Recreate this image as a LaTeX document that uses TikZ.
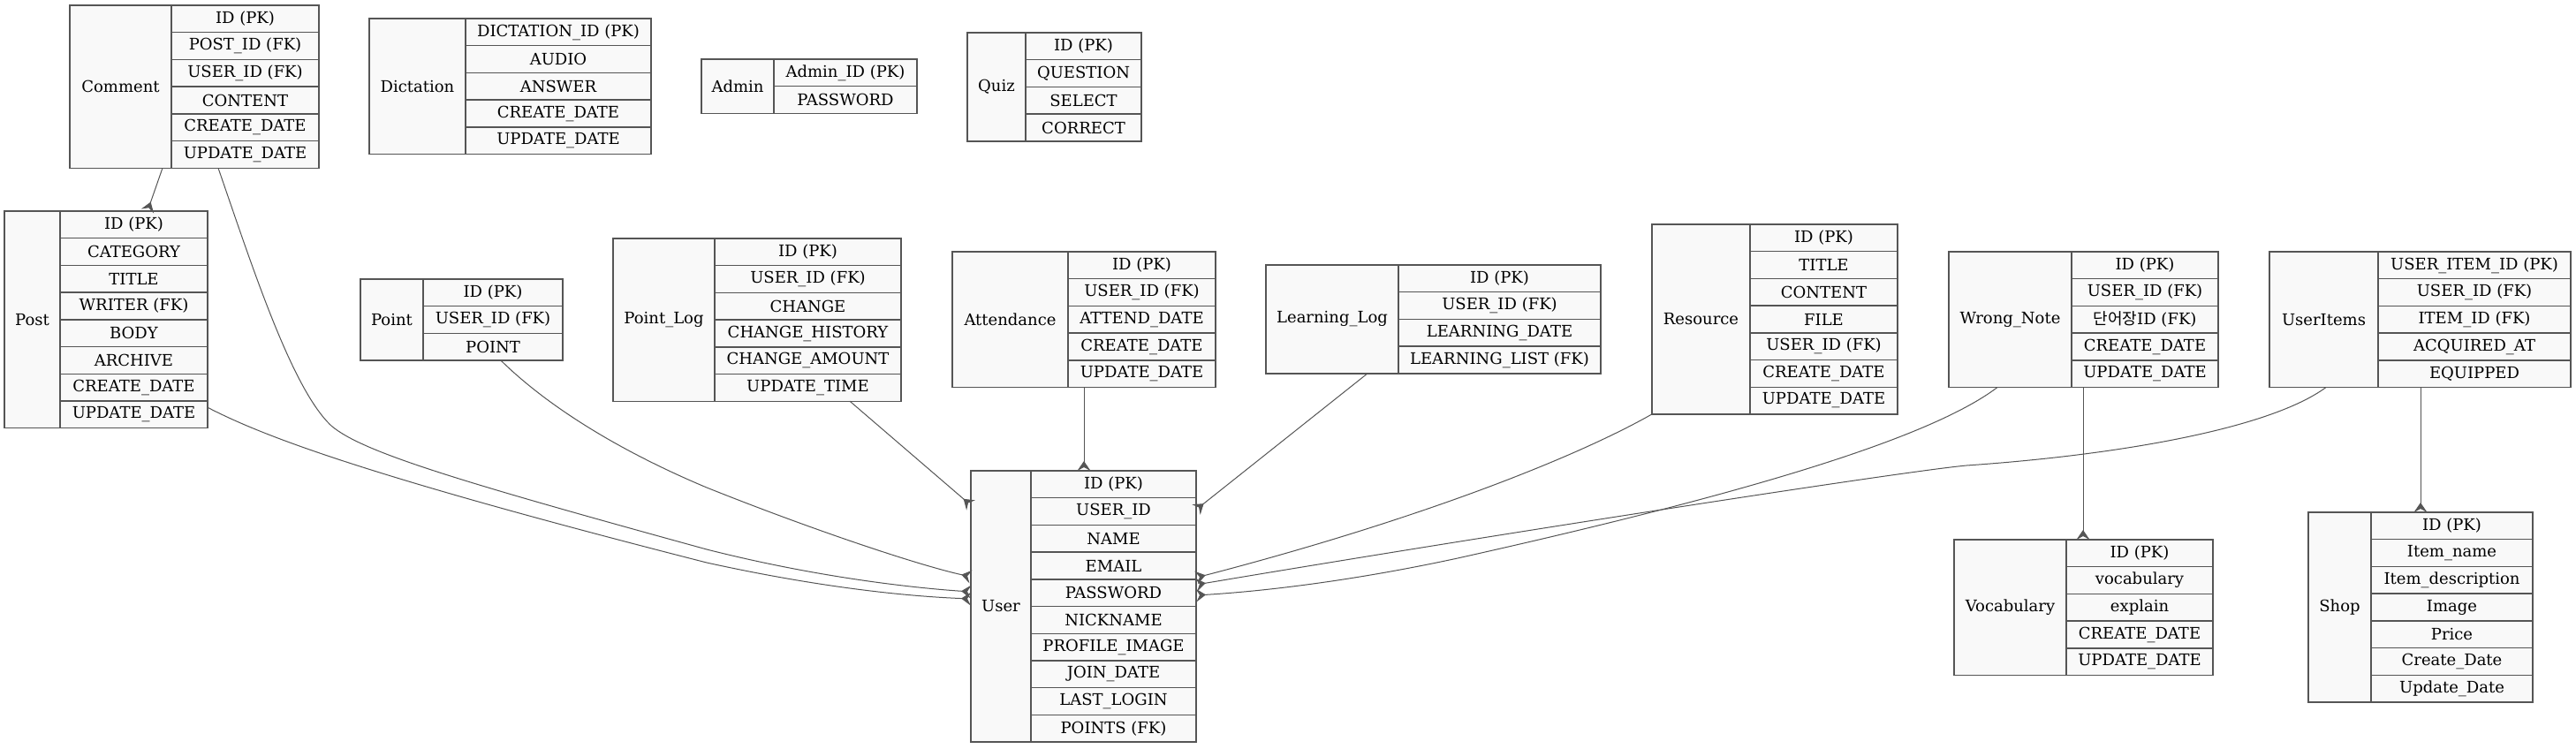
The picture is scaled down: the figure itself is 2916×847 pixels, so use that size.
\documentclass[tikz,border=0pt]{standalone}
\usepackage{fontspec}
\setmainfont{DejaVu Serif}
\newfontfamily\krfont{Noto Sans CJK KR}
\usetikzlibrary{arrows.meta}
\definecolor{erline}{HTML}{555555}
\definecolor{erfill}{HTML}{F9F9F9}
\newcommand{\erfont}{\fontsize{18}{20}\selectfont}
\newcommand{\rowh}{30.7}
\tikzset{
  erlbl/.style={draw=erline, fill=erfill, line width=1.4pt, inner sep=0pt, outer sep=0pt, font=\erfont},
  erfld/.style={erlbl},
  rel/.style={draw=erline, line width=1pt, -{Stealth[reversed, length=11pt, width=15pt, inset=4pt]}},
}
% name, x left, x divider, x right, y top, rows, label, fields
\newcommand{\erbox}[8]{%
  \node[erlbl, minimum width={(#3-#2)*1pt}, minimum height={#6*\rowh*1pt}] (#1) at ({(#2+#3)/2},{#5+#6*\rowh/2}) {#7};
  \foreach \fld [count=\i] in {#8}
    \node[erfld, minimum width={(#4-#3)*1pt}, minimum height={\rowh*1pt}] (#1-\i) at ({(#3+#4)/2},{#5+(\i-0.5)*\rowh}) {\fld};
}

\begin{document}
\begin{tikzpicture}[x=1pt, y=-1pt]
\useasboundingbox (0,0) rectangle (2916,847);
% top row
\erbox{comment}{79}{194}{361}{6}{6}{Comment}{ID (PK), POST\_ID (FK), USER\_ID (FK), CONTENT, CREATE\_DATE, UPDATE\_DATE}
\erbox{dict}{418}{527}{737}{21}{5}{Dictation}{DICTATION\_ID (PK), AUDIO, ANSWER, CREATE\_DATE, UPDATE\_DATE}
\erbox{admin}{794}{876}{1038}{67}{2}{Admin}{Admin\_ID (PK), PASSWORD}
\erbox{quiz}{1095}{1161}{1292}{37}{4}{Quiz}{ID (PK), QUESTION, SELECT, CORRECT}
% middle row
\erbox{post}{5}{68}{235}{239}{8}{Post}{ID (PK), CATEGORY, TITLE, WRITER (FK), BODY, ARCHIVE, CREATE\_DATE, UPDATE\_DATE}
\erbox{point}{408}{479}{637}{316}{3}{Point}{ID (PK), USER\_ID (FK), POINT}
\erbox{plog}{694}{809}{1020}{270}{6}{Point\_Log}{ID (PK), USER\_ID (FK), CHANGE, CHANGE\_HISTORY, CHANGE\_AMOUNT, UPDATE\_TIME}
\erbox{attend}{1078}{1209}{1376}{285}{5}{Attendance}{ID (PK), USER\_ID (FK), ATTEND\_DATE, CREATE\_DATE, UPDATE\_DATE}
\erbox{llog}{1433}{1583}{1812}{300}{4}{Learning\_Log}{ID (PK), USER\_ID (FK), LEARNING\_DATE, LEARNING\_LIST (FK)}
\erbox{resource}{1870}{1981}{2148}{254}{7}{Resource}{ID (PK), TITLE, CONTENT, FILE, USER\_ID (FK), CREATE\_DATE, UPDATE\_DATE}
\erbox{wnote}{2206}{2345}{2511}{285}{5}{Wrong\_Note}{ID (PK), USER\_ID (FK), {\krfont 단어장}ID (FK), CREATE\_DATE, UPDATE\_DATE}
\erbox{uitems}{2569}{2692}{2910}{285}{5}{UserItems}{USER\_ITEM\_ID (PK), USER\_ID (FK), ITEM\_ID (FK), ACQUIRED\_AT, EQUIPPED}
% bottom row
\erbox{user}{1099}{1167}{1354}{533}{10}{User}{ID (PK), USER\_ID, NAME, EMAIL, PASSWORD, NICKNAME, PROFILE\_IMAGE, JOIN\_DATE, LAST\_LOGIN, POINTS (FK)}
\erbox{vocab}{2212}{2339}{2505}{611}{5}{Vocabulary}{ID (PK), vocabulary, explain, CREATE\_DATE, UPDATE\_DATE}
\erbox{shop}{2613}{2684}{2867}{580}{7}{Shop}{ID (PK), Item\_name, Item\_description, Image, Price, Create\_Date, Update\_Date}
% relations
\draw[rel] ([xshift=-10pt]comment.south east) -- ([xshift=15.5pt]post-1.north);
\draw[rel] ([xshift=-30.5pt]comment-6.south) .. controls (285,300) and (330,440) .. (375,482) .. controls (410,512) and (520,545) .. (800,622) .. controls (930,655) and (1040,666) .. ([yshift=-137pt]user.north west);
\draw[rel] ([yshift=8pt]post-8.east) .. controls (300,495) and (420,540) .. (800,637) .. controls (950,670) and (1050,676) .. ([yshift=-145pt]user.north west);
\draw[rel] ([xshift=9pt]point-3.south) .. controls (620,460) and (700,510) .. (800,552) .. controls (920,600) and (1040,640) .. ([yshift=-120pt]user.north west);
\draw[rel] ([xshift=47.5pt]plog-6.south) -- ([yshift=-39pt]user.north west);
\draw[rel] ([xshift=18pt]attend-5.south west) -- ([xshift=60pt]user-1.north west);
\draw[rel] ([xshift=-35pt]llog.south east) -- ([yshift=-44pt]user-1.north east);
\draw[rel] (resource.south west) .. controls (1780,520) and (1600,590) .. ([yshift=-121pt]user-1.north east);
\draw[rel] ([xshift=-59pt]uitems.south east) .. controls (2570,485) and (2400,515) .. (2226,527) .. controls (2150,534) and (1650,612) .. ([yshift=-129pt]user-1.north east);
\draw[rel] ([xshift=55pt]wnote.south west) .. controls (2180,500) and (1950,565) .. (1650,632) .. controls (1520,660) and (1420,670) .. ([yshift=-141pt]user-1.north east);
\draw[rel] ([xshift=13pt]wnote-5.south west) -- ([xshift=19pt]vocab-1.north west);
\draw[rel] ([xshift=48pt]uitems-5.south west) -- ([xshift=56pt]shop-1.north west);
\end{tikzpicture}
\end{document}
